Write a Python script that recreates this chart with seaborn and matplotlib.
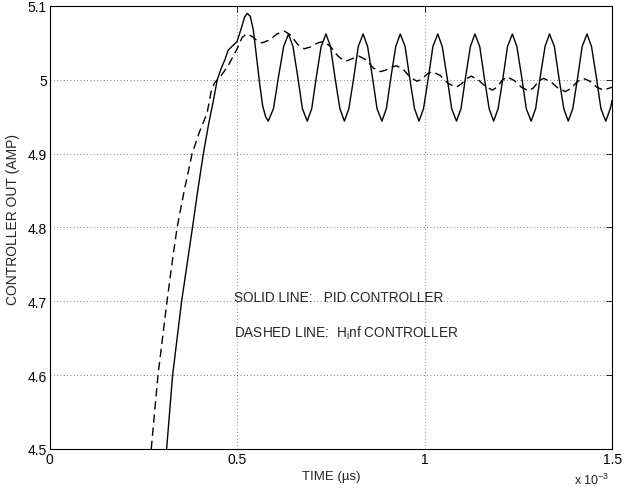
"""Controller output step response: PID vs Hinf controller."""

import matplotlib

matplotlib.use("Agg")
import matplotlib.pyplot as plt
import pandas as pd
import seaborn as sns

# time in units of 1e-3 s, controller output in AMP
pid_time = [
    0.309, 0.312, 0.328, 0.352, 0.381, 0.395, 0.410, 0.424, 0.436, 0.447,
    0.458, 0.468, 0.476, 0.488, 0.500, 0.510, 0.520, 0.527, 0.535, 0.543,
    0.552, 0.560, 0.568, 0.576, 0.583, 0.597, 0.610, 0.624,
    0.637, 0.649, 0.662, 0.674, 0.687, 0.699, 0.711, 0.724,
    0.737, 0.749, 0.761, 0.774, 0.786, 0.798, 0.811, 0.823,
    0.836, 0.848, 0.861, 0.873, 0.886, 0.898, 0.910, 0.923,
    0.935, 0.948, 0.960, 0.973, 0.985, 0.997, 1.010, 1.022,
    1.035, 1.047, 1.060, 1.072, 1.085, 1.097, 1.109, 1.122,
    1.134, 1.147, 1.159, 1.172, 1.184, 1.196, 1.209, 1.221,
    1.234, 1.246, 1.259, 1.271, 1.284, 1.296, 1.308, 1.321,
    1.333, 1.346, 1.358, 1.371, 1.383, 1.395, 1.408, 1.420,
    1.433, 1.445, 1.458, 1.470, 1.483, 1.495, 1.500,
]
pid_out = [
    4.490, 4.500, 4.600, 4.700, 4.800, 4.850, 4.900, 4.940, 4.970, 5.000,
    5.016, 5.028, 5.040, 5.046, 5.052, 5.068, 5.085, 5.090, 5.086, 5.068,
    5.030, 4.995, 4.965, 4.950, 4.944, 4.961, 5.003, 5.045,
    5.062, 5.045, 5.003, 4.961, 4.944, 4.961, 5.003, 5.045,
    5.062, 5.045, 5.003, 4.961, 4.944, 4.961, 5.003, 5.045,
    5.062, 5.045, 5.003, 4.961, 4.944, 4.961, 5.003, 5.045,
    5.062, 5.045, 5.003, 4.961, 4.944, 4.961, 5.003, 5.045,
    5.062, 5.045, 5.003, 4.961, 4.944, 4.961, 5.003, 5.045,
    5.062, 5.045, 5.003, 4.961, 4.944, 4.961, 5.003, 5.045,
    5.062, 5.045, 5.003, 4.961, 4.944, 4.961, 5.003, 5.045,
    5.062, 5.045, 5.003, 4.961, 4.944, 4.961, 5.003, 5.045,
    5.062, 5.045, 5.003, 4.961, 4.944, 4.961, 4.972,
]

hinf_time = [
    0.271, 0.289, 0.313, 0.326, 0.340, 0.359, 0.380, 0.400, 0.420, 0.431,
    0.440, 0.455, 0.476,
    0.500, 0.513, 0.525, 0.539, 0.553, 0.567, 0.587, 0.606, 0.626, 0.644,
    0.661, 0.679, 0.696, 0.713, 0.730, 0.749, 0.769, 0.788, 0.800, 0.813,
    0.825, 0.844, 0.863, 0.882, 0.896, 0.911, 0.925, 0.943, 0.962, 0.980,
    0.993, 1.007, 1.020, 1.041, 1.063, 1.084, 1.097, 1.111, 1.124, 1.143,
    1.162, 1.181, 1.194, 1.207, 1.220, 1.239, 1.258, 1.277, 1.290, 1.304,
    1.317, 1.336, 1.356, 1.375, 1.391, 1.407, 1.423, 1.441, 1.459, 1.477,
    1.500,
]
hinf_out = [
    4.500, 4.600, 4.700, 4.750, 4.800, 4.850, 4.900, 4.930, 4.955, 4.985,
    4.996, 5.004, 5.019,
    5.042, 5.057, 5.062, 5.059, 5.053, 5.050, 5.054, 5.062, 5.066, 5.060,
    5.048, 5.042, 5.0445, 5.0495, 5.052, 5.045, 5.032, 5.025, 5.027, 5.030,
    5.032, 5.027, 5.016, 5.011, 5.013, 5.017, 5.019, 5.014, 5.003, 4.998,
    5.001, 5.008, 5.011, 5.006, 4.995, 4.990, 4.994, 5.001, 5.005, 5.000,
    4.991, 4.986, 4.9905, 4.9995, 5.004, 4.999, 4.990, 4.985, 4.989, 4.998,
    5.002, 4.9975, 4.9885, 4.984, 4.9885, 4.9975, 5.002, 4.998, 4.990, 4.986,
    4.990,
]

x_ticks = [0, 0.5, 1, 1.5]
x_tick_labels = ["0", "0.5", "1", "1.5"]
y_ticks = [4.5, 4.6, 4.7, 4.8, 4.9, 5.0, 5.1]
y_tick_labels = ["4.5", "4.6", "4.7", "4.8", "4.9", "5", "5.1"]

sns.set_style("white")
plt.rcParams["font.family"] = ["Liberation Sans", "DejaVu Sans"]
plt.rcParams["mathtext.fontset"] = "custom"
plt.rcParams["mathtext.rm"] = "Liberation Sans"
plt.rcParams["mathtext.it"] = "Liberation Sans"

pid = pd.DataFrame({"time": pid_time, "out": pid_out})
hinf = pd.DataFrame({"time": hinf_time, "out": hinf_out})

fig = plt.figure(figsize=(6.24, 4.89), dpi=100)
ax = fig.add_axes([0.0795, 0.0798, 0.9015, 0.906])

sns.lineplot(data=pid, x="time", y="out", sort=False, estimator=None,
             color="black", linewidth=1.0, ax=ax)
sns.lineplot(data=hinf, x="time", y="out", sort=False, estimator=None,
             color="black", linewidth=1.0, ax=ax)
ax.lines[1].set_dashes([6, 3.5])

ax.set_xlim(0, 1.5)
ax.set_ylim(4.5, 5.1)
ax.set_xticks(x_ticks)
ax.set_xticklabels(x_tick_labels)
ax.set_yticks(y_ticks)
ax.set_yticklabels(y_tick_labels)
ax.tick_params(direction="in", length=4, width=0.6, labelsize=10,
               top=True, right=True, pad=2, colors="black")
ax.grid(True, linestyle=(0, (1, 3)), color="#555555", linewidth=0.6)
for side in ax.spines.values():
    side.set_linewidth(0.8)
    side.set_color("black")

ax.set_xlabel("TIME (\u00b5s)", fontsize=9.5, labelpad=3)
ax.set_ylabel("CONTROLLER OUT (AMP)", fontsize=10)
ax.yaxis.set_label_coords(-0.052, 0.52)
fig.text(0.977, 0.002, "x 10$^{-3}$", fontsize=9, ha="right", va="bottom")

ax.text(0.492, 4.706, "SOLID LINE:   PID CONTROLLER", fontsize=9.8, va="center")
ax.text(0.492, 4.658, "DASHED LINE:  H$_{\\mathregular{i}}$nf CONTROLLER",
        fontsize=9.8, va="center")

fig.savefig("out.png", dpi=100)
